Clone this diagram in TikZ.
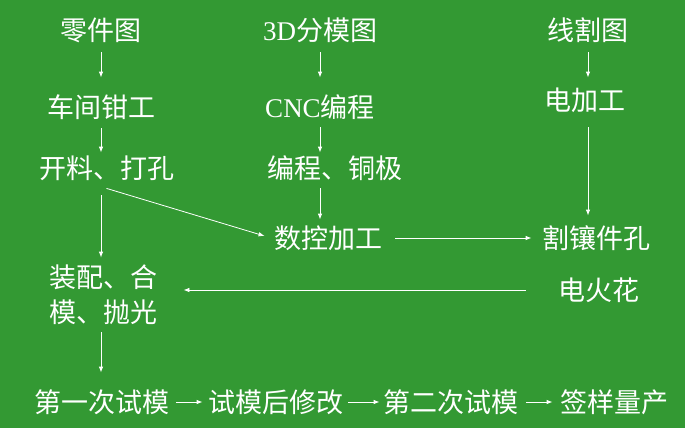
\documentclass[tikz,border=0pt]{standalone}
\usepackage{fontspec}
\setmainfont{Liberation Serif}
\newfontfamily\cjk{Noto Sans CJK SC}
\usetikzlibrary{arrows.meta}
\definecolor{bg}{RGB}{51,153,51}

\begin{document}
\begin{tikzpicture}[x=1pt,y=-1pt,
  every path/.style={>={Latex[length=6pt,width=4.5pt]},draw=white,line width=0.8pt},
  every node/.style={text=white,inner sep=0pt,text height=23.5pt,text depth=3.5pt,
    font=\cjk\fontsize{27}{35}\selectfont}]
\fill[bg,draw=none] (0,0) rectangle (685,428);
\node            (a) at (101,31)   { 零件图 };
\node            (b) at (320,31)   { {\rmfamily 3D}分模图 };
\node            (c) at (588,31)   { 线割图 };
\node            (d) at (101,107)  { 车间钳工 };
\node            (e) at (320,107)  { {\rmfamily CNC}编程 };
\node            (f) at (585,100)  { 电加工 };
\node            (g) at (106.5,168) { 开料、打孔 };
\node            (h) at (335,168)  { 编程、铜极 };
\node            (i) at (328,238)  { 数控加工 };
\node            (j) at (596,238)  { 割镶件孔 };
\node[align=center,text height=,text depth=] (k) at (103,295) { 装配、合\\模、抛光 };
\node            (l) at (599,290)  { 电火花 };
\node            (m) at (101.5,402) { 第一次试模 };
\node            (n) at (276,402)  { 试模后修改 };
\node            (o) at (451,402)  { 第二次试模 };
\node            (p) at (614,402)  { 签样量产 };
% left column
\draw[->, shorten <=7.5pt, shorten >=15.5pt] (a) -- (d);
\draw[->, shorten <=7.5pt, shorten >=1.5pt]  (d.south) -- (g.north -| d.south);
\draw[->, shorten <=13.5pt, shorten >=7pt]   (g.south -| d.south) -- (k.north -| d.south);
\draw[->, shorten <=7pt, shorten >=15.5pt]   (k.south -| d.south) -- (m.north -| d.south);
\draw[->]  ([yshift=-6.5pt]g.south) -- ([xshift=-9pt,yshift=2pt]i.west);
% middle column
\draw[->, shorten <=7.5pt, shorten >=15.5pt] (b) -- (e);
\draw[->, shorten <=6.5pt, shorten >=1.5pt]  (e.south) -- (h.north -| e.south);
\draw[->, shorten <=6.5pt, shorten >=4.5pt]  (h.south -| e.south) -- (i.north -| e.south);
% right column
\draw[->, shorten <=7.5pt, shorten >=8.5pt]  (c.south) -- (f.north -| c.south);
\draw[->, shorten <=13.5pt, shorten >=8.5pt] (f.south -| c.south) -- (j.north -| c.south);
% across
\draw[->, shorten <=13pt, shorten >=10pt]    (i.east) -- (j.west);
\draw[->, shorten <=32.5pt, shorten >=26pt]  (l.west) -- (l.west -| k.east);
% bottom row
\draw[->, shorten <=7pt, shorten >=5.5pt]    (m.east) -- (n.west);
\draw[->, shorten <=4.5pt, shorten >=3.5pt]  (n.east) -- (o.west);
\draw[->, shorten <=7.5pt, shorten >=7pt]    (o.east) -- (p.west);
\end{tikzpicture}
\end{document}
